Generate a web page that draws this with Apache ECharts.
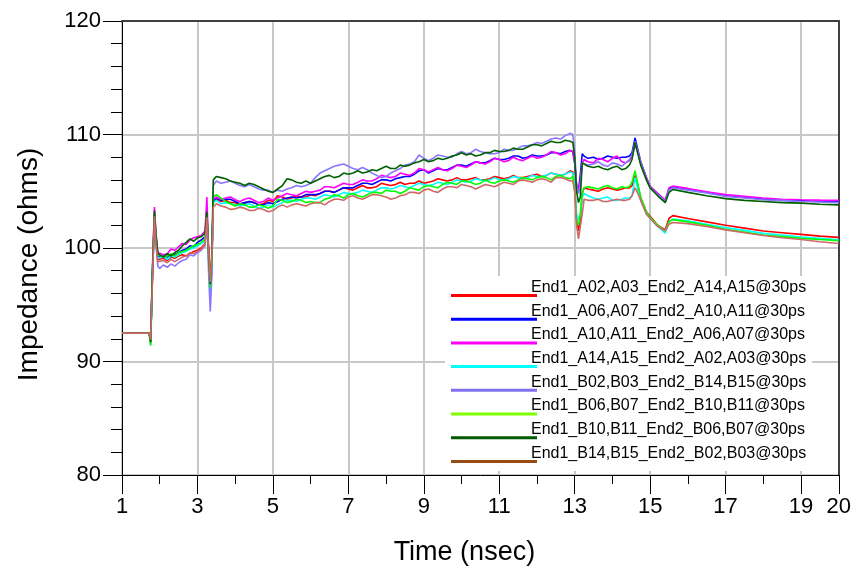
<!DOCTYPE html>
<html><head><meta charset="utf-8">
<script src="https://cdn.jsdelivr.net/npm/echarts@6/dist/echarts.min.js"></script>
<style>html,body{margin:0;padding:0;background:#fff}#c{width:854px;height:571px}</style>
</head><body><div id="c"></div>
<script>
// time samples (nsec)
const time = [1.0,1.72,1.76,1.8,1.86,1.9,1.95,2.0,2.1,2.2,2.3,2.4,2.5,2.6,2.7,2.8,2.9,3.0,3.1,3.2,3.25,3.3,3.34,3.38,3.42,
  3.5,3.625,3.75,3.875, 4,4.125,4.25,4.375, 4.5,4.625,4.75,4.875, 5,5.125,5.25,5.375, 5.5,5.625,5.75,5.875,
  6,6.125,6.25,6.375, 6.5,6.625,6.75,6.875, 7,7.125,7.25,7.375, 7.5,7.625,7.75,7.875, 8,8.125,8.25,8.375,
  8.5,8.625,8.75,8.875, 9,9.125,9.25,9.375, 9.5,9.625,9.75,9.875, 10,10.125,10.25,10.375, 10.5,10.625,10.75,10.875,
  11,11.125,11.25,11.375, 11.5,11.625,11.75,11.875, 12,12.125,12.25,12.375, 12.5,12.625,12.75,12.875,
  12.95,13.0,13.05,13.1,13.15,13.2,13.25,13.35,13.5,13.625,13.75,13.875,14.0,14.125,14.25,14.35,14.45,14.52,14.6,14.65,14.75,14.9,15.0,15.2,15.4,15.5,15.6,16.0,16.5,17.0,17.5,18.0,18.5,19.0,19.5,20.0];

// impedance (ohms), one value per time sample
const zA02 = [92.5,92.5,91.9,96.5,102.6,100.5,99.0,98.9,99.1,98.9,99.2,99.1,99.3,99.4,99.3,99.5,99.7,99.8,100.0,100.4,102.8,99.5,96.8,99.0,104.0,
  104.3,104.1,104.2,104.0, 104.0,103.8,103.9,104.1, 104.0,103.8,103.9,104.2, 104.1,104.6,104.5,104.3, 104.4,104.6,104.5,104.5,
  104.7,104.6,104.8,105.0, 105.0,104.9,105.1,105.3, 105.2,105.1,105.3,105.5, 105.3,105.3,105.4,105.7, 105.6,105.5,105.6,105.8,
  105.6,105.7,105.7,105.9, 105.7,105.8,105.9,106.1, 106.0,105.9,106.0,106.2, 106.0,106.0,106.1,106.2, 106.0,106.0,106.1,106.3,
  106.2,106.1,106.2,106.4, 106.2,106.2,106.3,106.4, 106.5,106.3,106.4,106.6, 106.5,106.4,106.5,106.8,
  106.7,105.5,102.5,101.5,102.5,104.8,105.3,105.2,105.1,105.0,105.2,105.3,105.2,105.1,105.2,105.3,105.3,105.5,106.4,105.8,104.4,103.2,102.8,102.0,101.6,102.6,102.85,102.6,102.3,102.0,101.75,101.5,101.35,101.2,101.05,100.94];
const zA06 = [92.5,92.5,91.8,97.0,103.0,101.0,99.2,99.1,99.3,99.2,99.4,99.4,99.6,99.8,99.9,100.2,100.1,100.5,100.7,101.0,103.0,99.0,96.3,98.5,104.2,
  104.4,104.2,104.3,104.3, 104.1,103.9,104.0,104.1, 104.0,103.8,103.8,104.0, 103.9,104.1,104.3,104.4, 104.5,104.4,104.5,104.7,
  104.7,104.7,104.8,105.0, 105.0,104.9,105.1,105.3, 105.3,105.3,105.5,105.7, 105.7,105.6,105.8,106.0, 106.0,105.9,106.1,106.2,
  106.3,106.3,106.5,106.8, 106.9,106.6,106.8,107.0, 106.9,106.9,107.1,107.3, 107.3,107.2,107.4,107.6, 107.5,107.5,107.7,107.9,
  107.8,107.8,107.9,108.1, 108.1,107.9,108.0,108.2, 108.1,108.1,108.2,108.4, 108.4,108.3,108.5,108.6,
  108.5,107.5,105.5,105.0,106.5,108.3,108.1,107.9,108.0,107.8,107.9,108.1,108.0,107.9,108.0,108.0,108.1,108.4,109.7,109.0,107.6,106.2,105.4,104.8,104.2,105.2,105.4,105.15,104.9,104.6,104.45,104.3,104.2,104.15,104.1,104.1];
const zA10 = [92.5,92.5,91.8,97.5,103.6,101.3,99.6,99.7,99.4,99.5,99.9,99.8,100.1,100.4,100.3,100.7,100.9,101.0,101.1,101.5,104.5,99.3,96.3,98.0,104.3,
  104.5,104.3,104.4,104.5, 104.25,104.1,104.3,104.4, 104.2,104.0,104.1,104.4, 104.2,104.4,104.6,104.8, 104.7,104.6,104.8,105.0,
  104.9,105.0,105.1,105.4, 105.4,105.3,105.5,105.7, 105.6,105.6,105.8,106.0, 105.9,105.9,106.1,106.4, 106.3,106.2,106.3,106.6,
  106.5,106.4,106.6,107.0, 106.9,106.7,106.9,107.1, 106.9,106.8,107.0,107.3, 107.2,107.1,107.3,107.6, 107.5,107.4,107.6,107.9,
  107.8,107.6,107.7,108.0, 107.8,107.7,107.9,108.1, 107.9,108.0,108.2,108.5, 108.4,108.2,108.3,108.6,
  108.5,107.5,105.5,105.0,106.0,107.5,107.8,107.6,107.5,107.9,107.8,107.6,107.9,108.1,107.6,107.5,107.7,108.0,109.1,108.7,107.5,106.2,105.4,104.8,104.2,105.3,105.45,105.25,104.95,104.7,104.55,104.4,104.3,104.25,104.22,104.2];
const zA14 = [92.5,92.5,91.7,96.8,102.8,100.8,99.1,99.0,99.2,99.0,99.3,99.2,99.4,99.6,99.7,99.9,100.0,100.2,100.4,100.6,102.9,98.5,95.6,98.0,104.0,
  104.2,103.9,104.0,103.9, 103.8,103.7,103.8,103.9, 103.7,103.5,103.6,103.8, 103.6,103.8,104.0,104.2, 104.2,104.1,104.3,104.4,
  104.4,104.3,104.5,104.7, 104.6,104.5,104.7,104.9, 104.8,104.8,104.9,105.1, 105.0,104.9,105.1,105.3, 105.3,105.2,105.3,105.5,
  105.4,105.3,105.5,105.7, 105.6,105.5,105.6,105.8, 105.7,105.6,105.8,106.0, 105.9,105.8,105.9,106.1, 106.0,105.9,106.0,106.2,
  106.0,106.0,106.1,106.3, 106.2,106.1,106.2,106.4, 106.3,106.3,106.4,106.6, 106.5,106.4,106.5,106.7,
  106.6,105.5,103.0,102.5,103.0,104.5,104.8,104.6,104.4,104.3,104.4,104.5,104.2,104.2,104.3,104.4,104.4,104.6,106.2,105.5,104.2,103.0,102.6,101.9,101.3,102.3,102.55,102.4,102.1,101.8,101.55,101.3,101.15,100.97,100.85,100.73];
const zB02 = [92.5,92.5,91.5,96.5,102.7,100.3,98.4,98.2,98.5,98.3,98.6,98.4,98.7,98.9,99.0,99.4,99.3,99.6,99.8,100.2,102.5,97.5,94.4,97.5,105.5,
  105.9,105.7,105.8,105.9, 105.7,105.5,105.4,105.6, 105.4,105.2,105.1,105.1, 104.9,105.1,105.0,105.2, 105.3,105.5,105.4,105.5,
  105.7,106.2,106.6,106.8, 107.0,107.2,107.3,107.4, 107.2,107.0,106.9,107.1, 106.9,106.6,106.4,106.2, 106.3,106.6,106.8,107.0,
  107.3,107.4,107.6,108.2, 107.9,107.7,107.9,108.2, 108.1,108.0,108.0,108.3, 108.5,108.3,108.4,108.7, 108.5,108.4,108.3,108.3,
  108.4,108.7,108.6,108.6, 108.8,109.0,109.0,109.1, 109.3,109.2,109.4,109.6, 109.7,109.6,109.9,110.1,
  110.0,108.5,105.5,104.8,105.5,107.5,107.6,107.3,107.4,107.6,107.3,107.2,107.5,107.4,107.2,107.5,107.8,108.2,109.4,108.8,107.5,106.1,105.3,104.7,104.1,105.1,105.3,105.1,104.85,104.55,104.4,104.25,104.2,104.1,104.05,104.0];
const zB06 = [92.5,92.5,91.4,97.0,103.0,101.0,99.4,99.4,99.2,99.3,99.5,99.3,99.6,99.7,99.8,100.0,100.2,100.3,100.5,100.8,103.0,99.0,96.5,99.0,104.5,
  104.7,104.4,104.1,103.9, 103.7,103.9,103.8,103.6, 103.6,103.8,103.7,103.5, 103.7,104.3,104.2,104.0, 104.1,104.3,104.2,104.0,
  104.1,104.0,104.0,104.3, 104.4,104.7,104.6,104.4, 104.7,104.8,104.6,104.5, 104.7,104.9,104.9,104.8, 105.1,105.0,105.0,104.8,
  105.0,105.3,105.2,105.1, 105.4,105.5,105.4,105.3, 105.6,105.8,105.7,105.6, 105.9,105.9,105.8,105.6, 105.7,106.0,105.8,105.7,
  105.9,106.0,105.9,105.8, 106.0,106.2,106.1,106.0, 106.2,106.3,106.2,106.0, 106.3,106.4,106.2,106.1,
  106.3,105.0,102.5,102.0,103.0,104.8,105.3,105.4,105.3,105.2,105.4,105.5,105.3,105.2,105.4,105.3,105.4,105.8,106.8,106.0,104.5,103.2,102.7,102.0,101.5,102.3,102.5,102.3,102.0,101.65,101.4,101.15,101.0,100.85,100.75,100.65];
const zB10 = [92.5,92.5,91.7,97.2,103.3,101.2,99.5,99.6,99.2,99.5,99.3,99.6,99.8,100.2,100.5,100.8,100.6,100.9,101.0,101.3,103.2,99.5,96.8,99.5,106.0,
  106.3,106.2,106.1,105.9, 105.8,105.7,105.5,105.7, 105.6,105.4,105.2,105.0, 104.9,105.2,105.5,106.1, 106.0,105.8,105.7,105.9,
  105.7,105.9,106.1,106.3, 106.4,106.2,106.3,106.6, 106.5,106.6,106.8,106.6, 106.7,106.9,106.8,107.0, 107.2,107.0,107.0,107.3,
  107.2,107.3,107.5,107.6, 107.8,107.6,107.7,107.9, 107.8,107.9,108.1,108.2, 108.4,108.2,108.3,108.1, 108.2,108.4,108.4,108.6,
  108.5,108.5,108.6,108.8, 108.7,108.7,108.9,109.1, 109.1,109.0,109.2,109.4, 109.3,109.3,109.5,109.4,
  109.3,108.0,105.0,104.0,104.5,107.5,107.5,107.2,107.1,107.2,107.0,106.9,107.1,107.2,106.9,107.0,107.3,107.8,109.3,108.6,107.3,106.0,105.3,104.6,104.0,104.9,105.15,104.9,104.6,104.35,104.2,104.1,104.0,103.95,103.85,103.8];
const zB14 = [92.5,92.5,91.9,96.5,102.8,100.4,98.8,98.7,98.9,98.7,99.0,98.8,99.0,99.2,99.3,99.6,99.5,99.7,99.9,100.3,102.7,99.5,97.0,99.0,103.6,
  103.9,103.7,103.6,103.4, 103.45,103.6,103.5,103.3, 103.3,103.5,103.4,103.2, 103.3,103.6,103.8,103.6, 103.8,103.9,103.8,103.7,
  103.9,104.0,104.0,103.8, 104.1,104.3,104.3,104.2, 104.5,104.6,104.4,104.3, 104.5,104.7,104.7,104.6, 104.5,104.3,104.4,104.6,
  104.7,104.9,104.9,104.8, 105.1,105.2,105.0,104.9, 105.2,105.4,105.4,105.3, 105.6,105.5,105.4,105.2, 105.4,105.6,105.5,105.4,
  105.6,105.8,105.7,105.6, 105.9,106.0,105.9,105.8, 106.0,106.1,106.0,105.8, 106.2,106.2,106.1,105.9,
  105.9,105.0,102.0,100.8,100.7,103.0,104.3,104.2,104.2,104.3,104.1,104.1,104.2,104.3,104.2,104.2,104.3,104.6,105.3,105.0,104.2,103.0,102.6,101.9,101.5,102.1,102.25,102.15,101.9,101.6,101.35,101.1,100.9,100.75,100.55,100.4];

const seriesNames = [
  'End1_A02,A03_End2_A14,A15@30ps',
  'End1_A06,A07_End2_A10,A11@30ps',
  'End1_A10,A11_End2_A06,A07@30ps',
  'End1_A14,A15_End2_A02,A03@30ps',
  'End1_B02,B03_End2_B14,B15@30ps',
  'End1_B06,B07_End2_B10,B11@30ps',
  'End1_B10,B11_End2_B06,B07@30ps',
  'End1_B14,B15_End2_B02,B03@30ps'
];
const seriesValues = [zA02, zA06, zA10, zA14, zB02, zB06, zB10, zB14];
const lineColors = ['#ff0000','#0000ff','#ff00ff','#00ffff','#8878ff','#00ff00','#006000','#d06868'];
const legendColors = ['#ff0000','#0000ff','#ff00ff','#00ffff','#8070f0','#80ff00','#005a00','#964b14'];
const xTickLabels = [1,3,5,7,9,11,13,15,17,19,20];
const yTickLabels = [80,90,100,110,120];

seriesValues.forEach((a, k) => { if (a.length !== time.length) console.error('length mismatch', k, a.length, time.length); });

const FONT = "'Liberation Sans', Arial, sans-serif";
const chart = echarts.init(document.getElementById('c'), null, {renderer: 'canvas'});

const series = seriesNames.map((n, k) => ({
  name: n,
  type: 'line',
  xAxisIndex: 0,
  yAxisIndex: 0,
  symbol: 'none',
  animation: false,
  lineStyle: {color: lineColors[k], width: 1.6},
  itemStyle: {color: lineColors[k]},
  data: time.map((t, i) => [t, seriesValues[k][i]])
}));

chart.setOption({
  animation: false,
  backgroundColor: '#fff',
  grid: {left: 122, right: 14, top: 21, bottom: 95, containLabel: false},
  xAxis: [
    {
      type: 'value', min: 1, max: 20, interval: 2, position: 'bottom',
      name: 'Time (nsec)', nameLocation: 'middle', nameGap: 64,
      nameTextStyle: {fontFamily: FONT, fontSize: 27, color: '#000', padding: [0, 32, 0, 0]},
      axisLine: {show: true, onZero: false, lineStyle: {color: '#000', width: 1}},
      axisTick: {show: true, inside: false, length: 19, lineStyle: {color: '#000', width: 1}},
      axisLabel: {fontFamily: FONT, fontSize: 22, color: '#000', margin: 21,
        formatter: v => (xTickLabels.indexOf(v) >= 0 ? String(v) : '')},
      splitLine: {show: true, lineStyle: {color: '#c8c8c8', width: 2}}
    },
    {
      type: 'value', min: 1, max: 20, interval: 1, position: 'bottom',
      axisLine: {show: false},
      axisTick: {show: true, inside: false, length: 9, lineStyle: {color: '#000', width: 1}},
      axisLabel: {show: false},
      splitLine: {show: false}
    },
    {
      type: 'value', min: 1, max: 20, position: 'top',
      axisLine: {show: true, lineStyle: {color: '#404040', width: 2}},
      axisTick: {show: false}, axisLabel: {show: false}, splitLine: {show: false}
    }
  ],
  yAxis: [
    {
      type: 'value', min: 80, max: 120, interval: 10, position: 'left',
      name: 'Impedance (ohms)', nameLocation: 'middle', nameGap: 79, nameRotate: 90,
      nameTextStyle: {fontFamily: FONT, fontSize: 28, color: '#000', padding: [0, 33, 0, 0]},
      axisLine: {show: true, onZero: false, lineStyle: {color: '#000', width: 1}},
      axisTick: {show: true, inside: false, length: 19, lineStyle: {color: '#000', width: 1}},
      minorTick: {show: true, splitNumber: 5, length: 11, lineStyle: {color: '#000', width: 1}},
      axisLabel: {fontFamily: FONT, fontSize: 22, color: '#000', margin: 21,
        formatter: v => (yTickLabels.indexOf(v) >= 0 ? String(v) : '')},
      splitLine: {show: true, lineStyle: {color: '#c8c8c8', width: 2}}
    },
    {
      type: 'value', min: 80, max: 120, position: 'right',
      axisLine: {show: true, lineStyle: {color: '#404040', width: 2}},
      axisTick: {show: false}, axisLabel: {show: false}, splitLine: {show: false}
    }
  ],
  legend: {
    show: true,
    orient: 'vertical',
    left: 445, top: 276,
    padding: [2, 6, 8, 6],
    backgroundColor: '#fff',
    itemWidth: 86, itemHeight: 19, itemGap: 4.7,
    icon: 'path://M0,0L86,0L86,0Z M0,16L86,16L86,19L0,19Z',
    symbolKeepAspect: false,
    itemStyle: {borderWidth: 0},
    textStyle: {fontFamily: FONT, fontSize: 16, color: '#000', padding: [0, 0, 0, -11]},
    data: seriesNames.map((n, k) => ({name: n, itemStyle: {color: legendColors[k], borderWidth: 0}}))
  },
  series: series
});
</script></body></html>
